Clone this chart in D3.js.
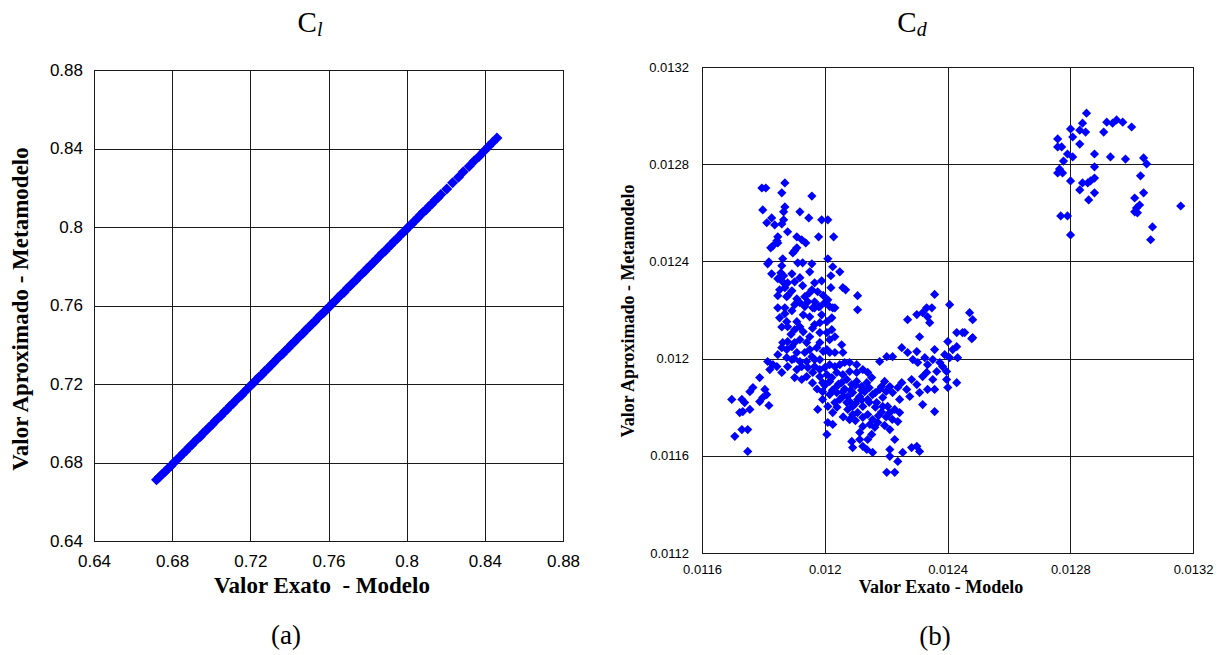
<!DOCTYPE html>
<html><head><meta charset="utf-8">
<script src="https://cdn.jsdelivr.net/npm/d3@7"></script>
<style>
html,body{margin:0;padding:0;background:#fff;}
svg{display:block;}
.serif{font-family:"Liberation Serif","Times New Roman",serif;}
.sans{font-family:"Liberation Sans",Arial,sans-serif;}
</style></head>
<body>
<svg id="chart" width="1226" height="655"></svg>
<script>
// ---------- data ----------
const clTicks = [0.64, 0.68, 0.72, 0.76, 0.8, 0.84, 0.88];
const clTickLabels = ["0.64", "0.68", "0.72", "0.76", "0.8", "0.84", "0.88"];
const cdXTicks = [0.0116, 0.012, 0.0124, 0.0128, 0.0132];
const cdXTickLabels = ["0.0116", "0.012", "0.0124", "0.0128", "0.0132"];
const cdYTicks = [0.0112, 0.0116, 0.012, 0.0124, 0.0128, 0.0132];
const cdYTickLabels = ["0.0112", "0.0116", "0.012", "0.0124", "0.0128", "0.0132"];

// Cl: [valor exato, valor aproximado]
const clPoints = [
[0.6720,0.6712],[0.6735,0.6726],[0.6750,0.6741],[0.6765,0.6754],[0.6780,0.6771],[0.6795,0.6784],
[0.6810,0.6801],[0.6825,0.6815],[0.6840,0.6829],[0.6855,0.6846],[0.6870,0.6859],[0.6885,0.6876],
[0.6900,0.6889],[0.6915,0.6906],[0.6930,0.6921],[0.6945,0.6933],[0.6960,0.6951],[0.6975,0.6964],
[0.6990,0.6981],[0.7005,0.6994],[0.7020,0.7011],[0.7035,0.7026],[0.7050,0.7038],[0.7065,0.7056],
[0.7080,0.7069],[0.7095,0.7086],[0.7110,0.7099],[0.7125,0.7116],[0.7140,0.7131],[0.7155,0.7143],
[0.7170,0.7161],[0.7185,0.7174],[0.7200,0.7191],[0.7215,0.7204],[0.7230,0.7221],[0.7245,0.7236],
[0.7260,0.7248],[0.7275,0.7266],[0.7290,0.7279],[0.7305,0.7296],[0.7320,0.7309],[0.7335,0.7326],
[0.7350,0.7341],[0.7365,0.7353],[0.7380,0.7371],[0.7395,0.7384],[0.7410,0.7401],[0.7425,0.7414],
[0.7440,0.7431],[0.7455,0.7446],[0.7470,0.7458],[0.7485,0.7476],[0.7500,0.7489],[0.7515,0.7506],
[0.7530,0.7519],[0.7545,0.7536],[0.7560,0.7551],[0.7575,0.7563],[0.7590,0.7581],[0.7605,0.7594],
[0.7620,0.7611],[0.7635,0.7624],[0.7650,0.7641],[0.7665,0.7656],[0.7680,0.7668],[0.7695,0.7686],
[0.7710,0.7699],[0.7725,0.7716],[0.7740,0.7729],[0.7755,0.7746],[0.7770,0.7761],[0.7785,0.7773],
[0.7800,0.7791],[0.7815,0.7804],[0.7830,0.7821],[0.7845,0.7834],[0.7860,0.7851],[0.7875,0.7866],
[0.7890,0.7878],[0.7905,0.7896],[0.7920,0.7909],[0.7935,0.7926],[0.7950,0.7939],[0.7965,0.7956],
[0.7980,0.7971],[0.7995,0.7983],[0.8010,0.8001],[0.8025,0.8014],[0.8040,0.8031],[0.8055,0.8044],
[0.8070,0.8061],[0.8085,0.8076],[0.8100,0.8088],[0.8115,0.8106],[0.8130,0.8119],[0.8145,0.8136],
[0.8160,0.8149],[0.8175,0.8166],[0.8205,0.8194],[0.8235,0.8226],[0.8265,0.8253],[0.8290,0.8281],
[0.8320,0.8309],[0.8345,0.8336],[0.8370,0.8359],[0.8395,0.8386],[0.8420,0.8411],[0.8440,0.8432],
[0.8462,0.8453]
];

// Cd: [valor exato, valor aproximado]
const cdPoints = [
[0.011795,0.012702],[0.011808,0.012702],[0.011870,0.012723],[0.011860,0.012682],[0.011958,0.012669],
[0.011798,0.012612],[0.011870,0.012624],[0.011866,0.012604],[0.011919,0.012604],[0.011948,0.012579],
[0.011990,0.012571],[0.012010,0.012571],[0.011811,0.012559],[0.011827,0.012579],[0.011837,0.012550],
[0.011860,0.012554],[0.011866,0.012571],[0.011879,0.012522],[0.011847,0.012501],[0.011909,0.012501],
[0.011925,0.012489],[0.011938,0.012476],[0.011980,0.012501],[0.012029,0.012501],[0.011831,0.012464],
[0.011847,0.012476],[0.011844,0.012485],[0.011824,0.012456],[0.011902,0.012444],[0.011896,0.012435],
[0.011909,0.012456],[0.012010,0.012411],[0.011818,0.012398],[0.011814,0.012390],[0.011863,0.012411],
[0.011860,0.012382],[0.011912,0.012394],[0.011928,0.012394],[0.011958,0.012390],[0.012026,0.012378],
[0.012049,0.012357],[0.011827,0.012349],[0.011857,0.012353],[0.011866,0.012341],[0.011893,0.012349],
[0.011951,0.012357],[0.012020,0.012341],[0.011847,0.012329],[0.011863,0.012316],[0.011879,0.012312],
[0.011902,0.012316],[0.011919,0.012333],[0.011928,0.012300],[0.011967,0.012312],[0.011990,0.012320],
[0.011853,0.012283],[0.011870,0.012292],[0.011893,0.012279],[0.012020,0.012292],[0.012059,0.012292],
[0.011958,0.012283],[0.011977,0.012275],[0.011847,0.012259],[0.011876,0.012255],[0.011909,0.012246],
[0.011935,0.012255],[0.011945,0.012234],[0.011967,0.012234],[0.011980,0.012214],[0.012000,0.012230],
[0.012010,0.012242],[0.011847,0.012209],[0.011870,0.012209],[0.011893,0.012197],[0.011902,0.012222],
[0.011919,0.012230],[0.011935,0.012214],[0.011961,0.012209],[0.012026,0.012209],[0.012068,0.012283],
[0.012107,0.012259],[0.012107,0.012201],[0.012270,0.012160],[0.012300,0.012181],[0.011967,0.012209],
[0.011984,0.012214],[0.012016,0.012214],[0.012033,0.012209],[0.011853,0.012168],[0.011876,0.012152],
[0.011909,0.012152],[0.011919,0.012131],[0.011879,0.012131],[0.011902,0.012119],[0.011951,0.012172],
[0.011967,0.012140],[0.011984,0.012148],[0.012007,0.012152],[0.012023,0.012168],[0.011984,0.012107],
[0.012007,0.012107],[0.012023,0.012119],[0.012033,0.012090],[0.012016,0.012078],[0.011951,0.012090],
[0.011941,0.012066],[0.011919,0.012078],[0.011902,0.012066],[0.011879,0.012070],[0.011863,0.012066],
[0.011860,0.012045],[0.011876,0.012037],[0.011893,0.012049],[0.011984,0.012066],[0.011974,0.012045],
[0.012007,0.012037],[0.012016,0.012025],[0.012033,0.012025],[0.012055,0.012057],[0.012059,0.012025],
[0.011909,0.012025],[0.011935,0.012025],[0.011951,0.012037],[0.011958,0.012008],[0.011847,0.012016],
[0.011876,0.012004],[0.011893,0.011996],[0.011919,0.011988],[0.011941,0.011988],[0.011967,0.011996],
[0.011984,0.011996],[0.011814,0.011988],[0.011831,0.011975],[0.011821,0.011955],[0.011844,0.011967],
[0.011860,0.011943],[0.011879,0.011967],[0.011909,0.011955],[0.011925,0.011967],[0.011945,0.011963],
[0.011967,0.011967],[0.011984,0.011955],[0.012000,0.011963],[0.012016,0.011975],[0.012033,0.011967],
[0.012049,0.011975],[0.012065,0.011984],[0.012081,0.011984],[0.012104,0.011975],[0.011902,0.011922],
[0.011925,0.011914],[0.011941,0.011926],[0.011961,0.011943],[0.011984,0.011926],[0.012007,0.011934],
[0.012023,0.011922],[0.012039,0.011943],[0.012059,0.011934],[0.012081,0.011947],[0.012104,0.011943],
[0.012124,0.011955],[0.012140,0.011943],[0.011788,0.011922],[0.011766,0.011881],[0.011756,0.011864],
[0.011805,0.011873],[0.011811,0.011852],[0.011798,0.011840],[0.011788,0.011823],[0.011818,0.011807],
[0.011697,0.011832],[0.011730,0.011832],[0.011739,0.011819],[0.011733,0.011782],[0.011756,0.011791],
[0.011723,0.011778],[0.011730,0.011708],[0.011749,0.011708],[0.011707,0.011680],[0.011749,0.011618],
[0.011993,0.011901],[0.012016,0.011906],[0.012039,0.011885],[0.012055,0.011901],[0.012072,0.011914],
[0.012088,0.011893],[0.012104,0.011906],[0.012120,0.011885],[0.012137,0.011901],[0.012153,0.011922],
[0.011993,0.011864],[0.012016,0.011852],[0.012039,0.011860],[0.012059,0.011864],[0.012075,0.011844],
[0.012091,0.011860],[0.012114,0.011844],[0.012130,0.011864],[0.011993,0.011832],[0.012010,0.011803],
[0.012033,0.011819],[0.012049,0.011832],[0.012072,0.011819],[0.012091,0.011803],[0.012107,0.011832],
[0.012124,0.011803],[0.011977,0.011791],[0.012026,0.011778],[0.012010,0.011737],[0.012026,0.011729],
[0.012007,0.011688],[0.012075,0.011791],[0.012091,0.011770],[0.012081,0.011749],[0.012107,0.011778],
[0.012124,0.011758],[0.012140,0.011770],[0.012156,0.011749],[0.012173,0.011737],[0.012140,0.011832],
[0.012156,0.011852],[0.012169,0.011819],[0.012189,0.011840],[0.012179,0.011873],[0.012195,0.011906],
[0.012212,0.011885],[0.012221,0.011860],[0.012238,0.011881],[0.012251,0.011901],[0.012267,0.011873],
[0.012277,0.011844],[0.012244,0.011832],[0.012228,0.011791],[0.012205,0.011803],[0.012189,0.011803],
[0.012124,0.011721],[0.012147,0.011729],[0.012163,0.011717],[0.012153,0.011688],[0.012140,0.011667],
[0.012114,0.011696],[0.012114,0.011667],[0.012088,0.011659],[0.012091,0.011634],[0.012124,0.011639],
[0.012137,0.011626],[0.012156,0.011614],[0.012212,0.011708],[0.012228,0.011667],[0.012212,0.011626],
[0.012212,0.011598],[0.012238,0.011577],[0.012254,0.011614],[0.012283,0.011634],[0.012300,0.011639],
[0.012309,0.011618],[0.012202,0.011532],[0.012228,0.011532],[0.012238,0.011741],[0.012212,0.011778],
[0.012244,0.011778],[0.012283,0.011914],[0.012300,0.011893],[0.012309,0.011860],[0.012335,0.011873],
[0.012319,0.011926],[0.012332,0.011943],[0.012352,0.011914],[0.012365,0.011947],[0.012384,0.011967],
[0.012397,0.011947],[0.012358,0.011873],[0.012352,0.011996],[0.012375,0.011984],[0.012391,0.012016],
[0.012407,0.012004],[0.012417,0.012037],[0.012433,0.012004],[0.012430,0.012049],[0.012449,0.012107],
[0.012430,0.012107],[0.012401,0.012070],[0.012430,0.011901],[0.012397,0.011914],[0.012401,0.011881],
[0.012319,0.011811],[0.012358,0.011782],[0.012251,0.012045],[0.012270,0.012025],[0.012287,0.011996],
[0.012303,0.011984],[0.012300,0.012029],[0.012326,0.012004],[0.012335,0.011975],[0.012358,0.012037],
[0.012309,0.012090],[0.012332,0.012209],[0.012349,0.012209],[0.012335,0.012172],[0.012342,0.012148],
[0.012319,0.012189],[0.012407,0.012222],[0.012472,0.012189],[0.012482,0.012160],[0.012482,0.012086],
[0.012456,0.012107],[0.012179,0.011988],[0.012202,0.012008],[0.012221,0.012008],[0.012358,0.012264],
[0.012479,0.012082],
[0.011960,0.011900],[0.011975,0.011875],[0.012000,0.011890],[0.012025,0.011870],[0.012045,0.011895],
[0.012065,0.011875],[0.012085,0.011870],[0.012100,0.011890],[0.012120,0.011870],[0.012145,0.011880],
[0.012165,0.011860],[0.012185,0.011885],[0.012200,0.011865],[0.012060,0.011845],[0.012080,0.011825],
[0.012100,0.011815],[0.012120,0.011830],[0.012145,0.011820],[0.012165,0.011800],[0.012185,0.011780],
[0.012200,0.011760],[0.012220,0.011750],[0.012175,0.011765],[0.012195,0.011725],[0.012100,0.011745],
[0.012060,0.011760],[0.012040,0.011800],
[0.011890,0.012100],[0.011930,0.012110],[0.011960,0.012125],[0.011870,0.012185],[0.011930,0.012180],
[0.011990,0.012180],[0.011880,0.012260],[0.011950,0.012270],[0.011900,0.012000],[0.011995,0.012030],
[0.011860,0.012130],[0.011995,0.012260],
[0.012853,0.013010],[0.012840,0.012969],[0.012831,0.012940],[0.012850,0.012932],[0.012801,0.012945],
[0.012808,0.012912],[0.012759,0.012904],[0.012831,0.012883],[0.012759,0.012871],[0.012772,0.012871],
[0.012919,0.012973],[0.012938,0.012969],[0.012951,0.012982],[0.012971,0.012973],[0.013000,0.012953],
[0.012909,0.012932],[0.012791,0.012842],[0.012808,0.012830],[0.012778,0.012813],[0.012879,0.012842],
[0.012931,0.012830],[0.012980,0.012821],[0.013039,0.012826],[0.013049,0.012801],[0.012879,0.012789],
[0.012765,0.012780],[0.012759,0.012764],[0.012775,0.012764],[0.012801,0.012731],[0.012840,0.012723],
[0.012857,0.012723],[0.012866,0.012731],[0.012879,0.012743],[0.012831,0.012694],[0.012879,0.012682],
[0.012860,0.012653],[0.013029,0.012752],[0.013039,0.012682],[0.013010,0.012661],[0.013026,0.012632],
[0.013016,0.012620],[0.013010,0.012604],[0.013019,0.012600],[0.013160,0.012628],[0.012769,0.012587],
[0.012791,0.012587],[0.012801,0.012509],[0.013068,0.012542],[0.013062,0.012489]
];

// ---------- drawing ----------
const svg = d3.select("#chart");
const BLUE = "#0000FF";
const GRID = "#1a1a1a";

function diamond(r){ return `M0,${-r}L${r},0L0,${r}L${-r},0Z`; }

function panel(cfg){
  const g = svg.append("g");
  const x = d3.scaleLinear().domain(cfg.xDomain).range([cfg.x0, cfg.x1]);
  const y = d3.scaleLinear().domain(cfg.yDomain).range([cfg.y1, cfg.y0]);
  const h = cfg.y1 - cfg.y0, w = cfg.x1 - cfg.x0;

  // grid
  g.append("g").attr("transform", `translate(0,${cfg.y1})`)
    .call(d3.axisBottom(x).tickValues(cfg.xTicks).tickSize(-h).tickFormat(""))
    .call(a => { a.select(".domain").remove(); a.selectAll("line").attr("stroke", GRID).attr("shape-rendering","crispEdges"); });
  g.append("g").attr("transform", `translate(${cfg.x0},0)`)
    .call(d3.axisLeft(y).tickValues(cfg.yTicks).tickSize(-w).tickFormat(""))
    .call(a => { a.select(".domain").remove(); a.selectAll("line").attr("stroke", GRID).attr("shape-rendering","crispEdges"); });
  g.append("rect").attr("x", cfg.x0).attr("y", cfg.y0).attr("width", w).attr("height", h)
    .attr("fill", "none").attr("stroke", GRID).attr("shape-rendering","crispEdges");

  // tick labels
  g.append("g").attr("transform", `translate(0,${cfg.y1})`)
    .call(d3.axisBottom(x).tickValues(cfg.xTicks).tickSize(0).tickPadding(cfg.xPad)
      .tickFormat((d,i) => cfg.xLabels[i]))
    .call(a => { a.select(".domain").remove(); a.selectAll("text").attr("class","sans")
      .attr("font-size", cfg.tickFont).attr("fill","#000"); });
  g.append("g").attr("transform", `translate(${cfg.x0},0)`)
    .call(d3.axisLeft(y).tickValues(cfg.yTicks).tickSize(0).tickPadding(cfg.yPad)
      .tickFormat((d,i) => cfg.yLabels[i]))
    .call(a => { a.select(".domain").remove(); a.selectAll("text").attr("class","sans")
      .attr("font-size", cfg.tickFont).attr("fill","#000"); });

  // points
  g.append("g").selectAll("path").data(cfg.points).join("path")
    .attr("d", diamond(cfg.r))
    .attr("transform", d => `translate(${x(d[0])},${y(d[1])})`)
    .attr("fill", BLUE);

  // axis titles
  g.append("text").attr("class","serif").attr("x", cfg.xtX).attr("y", cfg.xtY)
    .attr("text-anchor","middle").attr("font-weight","bold").attr("font-size", cfg.titleFont)
    .style("white-space","pre").text(cfg.xTitle);
  g.append("text").attr("class","serif")
    .attr("transform", `translate(${cfg.ytX},${cfg.ytY}) rotate(-90)`)
    .attr("text-anchor","middle").attr("font-weight","bold").attr("font-size", cfg.titleFont)
    .text(cfg.yTitle);

  // chart title C_sub
  const t = g.append("text").attr("class","serif").attr("x", cfg.tX).attr("y", cfg.tY)
    .attr("text-anchor","middle").attr("font-size", 29);
  t.append("tspan").text("C");
  t.append("tspan").attr("font-style","italic").attr("font-size", 20).attr("dy", 4).text(cfg.sub);

  // panel label
  g.append("text").attr("class","serif").attr("x", cfg.lX).attr("y", cfg.lY)
    .attr("text-anchor","middle").attr("font-size", 27).text(cfg.label);
}

panel({
  x0: 94, x1: 563, y0: 70, y1: 541,
  xDomain: [0.64, 0.88], yDomain: [0.64, 0.88],
  xTicks: clTicks, yTicks: clTicks, xLabels: clTickLabels, yLabels: clTickLabels,
  tickFont: 17, xPad: 14, yPad: 11,
  points: clPoints, r: 5.5,
  xTitle: "Valor Exato  - Modelo", xtX: 322, xtY: 593,
  yTitle: "Valor Aproximado - Metamodelo", ytX: 28, ytY: 309,
  titleFont: 23,
  sub: "l", tX: 310, tY: 32,
  label: "(a)", lX: 286, lY: 644
});

panel({
  x0: 702, x1: 1193, y0: 67, y1: 553,
  xDomain: [0.0116, 0.0132], yDomain: [0.0112, 0.0132],
  xTicks: cdXTicks, yTicks: cdYTicks, xLabels: cdXTickLabels, yLabels: cdYTickLabels,
  tickFont: 13, xPad: 12, yPad: 13,
  points: cdPoints, r: 4.6,
  xTitle: "Valor Exato - Modelo", xtX: 941, xtY: 593,
  yTitle: "Valor Aproximado - Metamodelo", ytX: 634, ytY: 311,
  titleFont: 18,
  sub: "d", tX: 912, tY: 32,
  label: "(b)", lX: 935, lY: 645
});
</script>
</body></html>
